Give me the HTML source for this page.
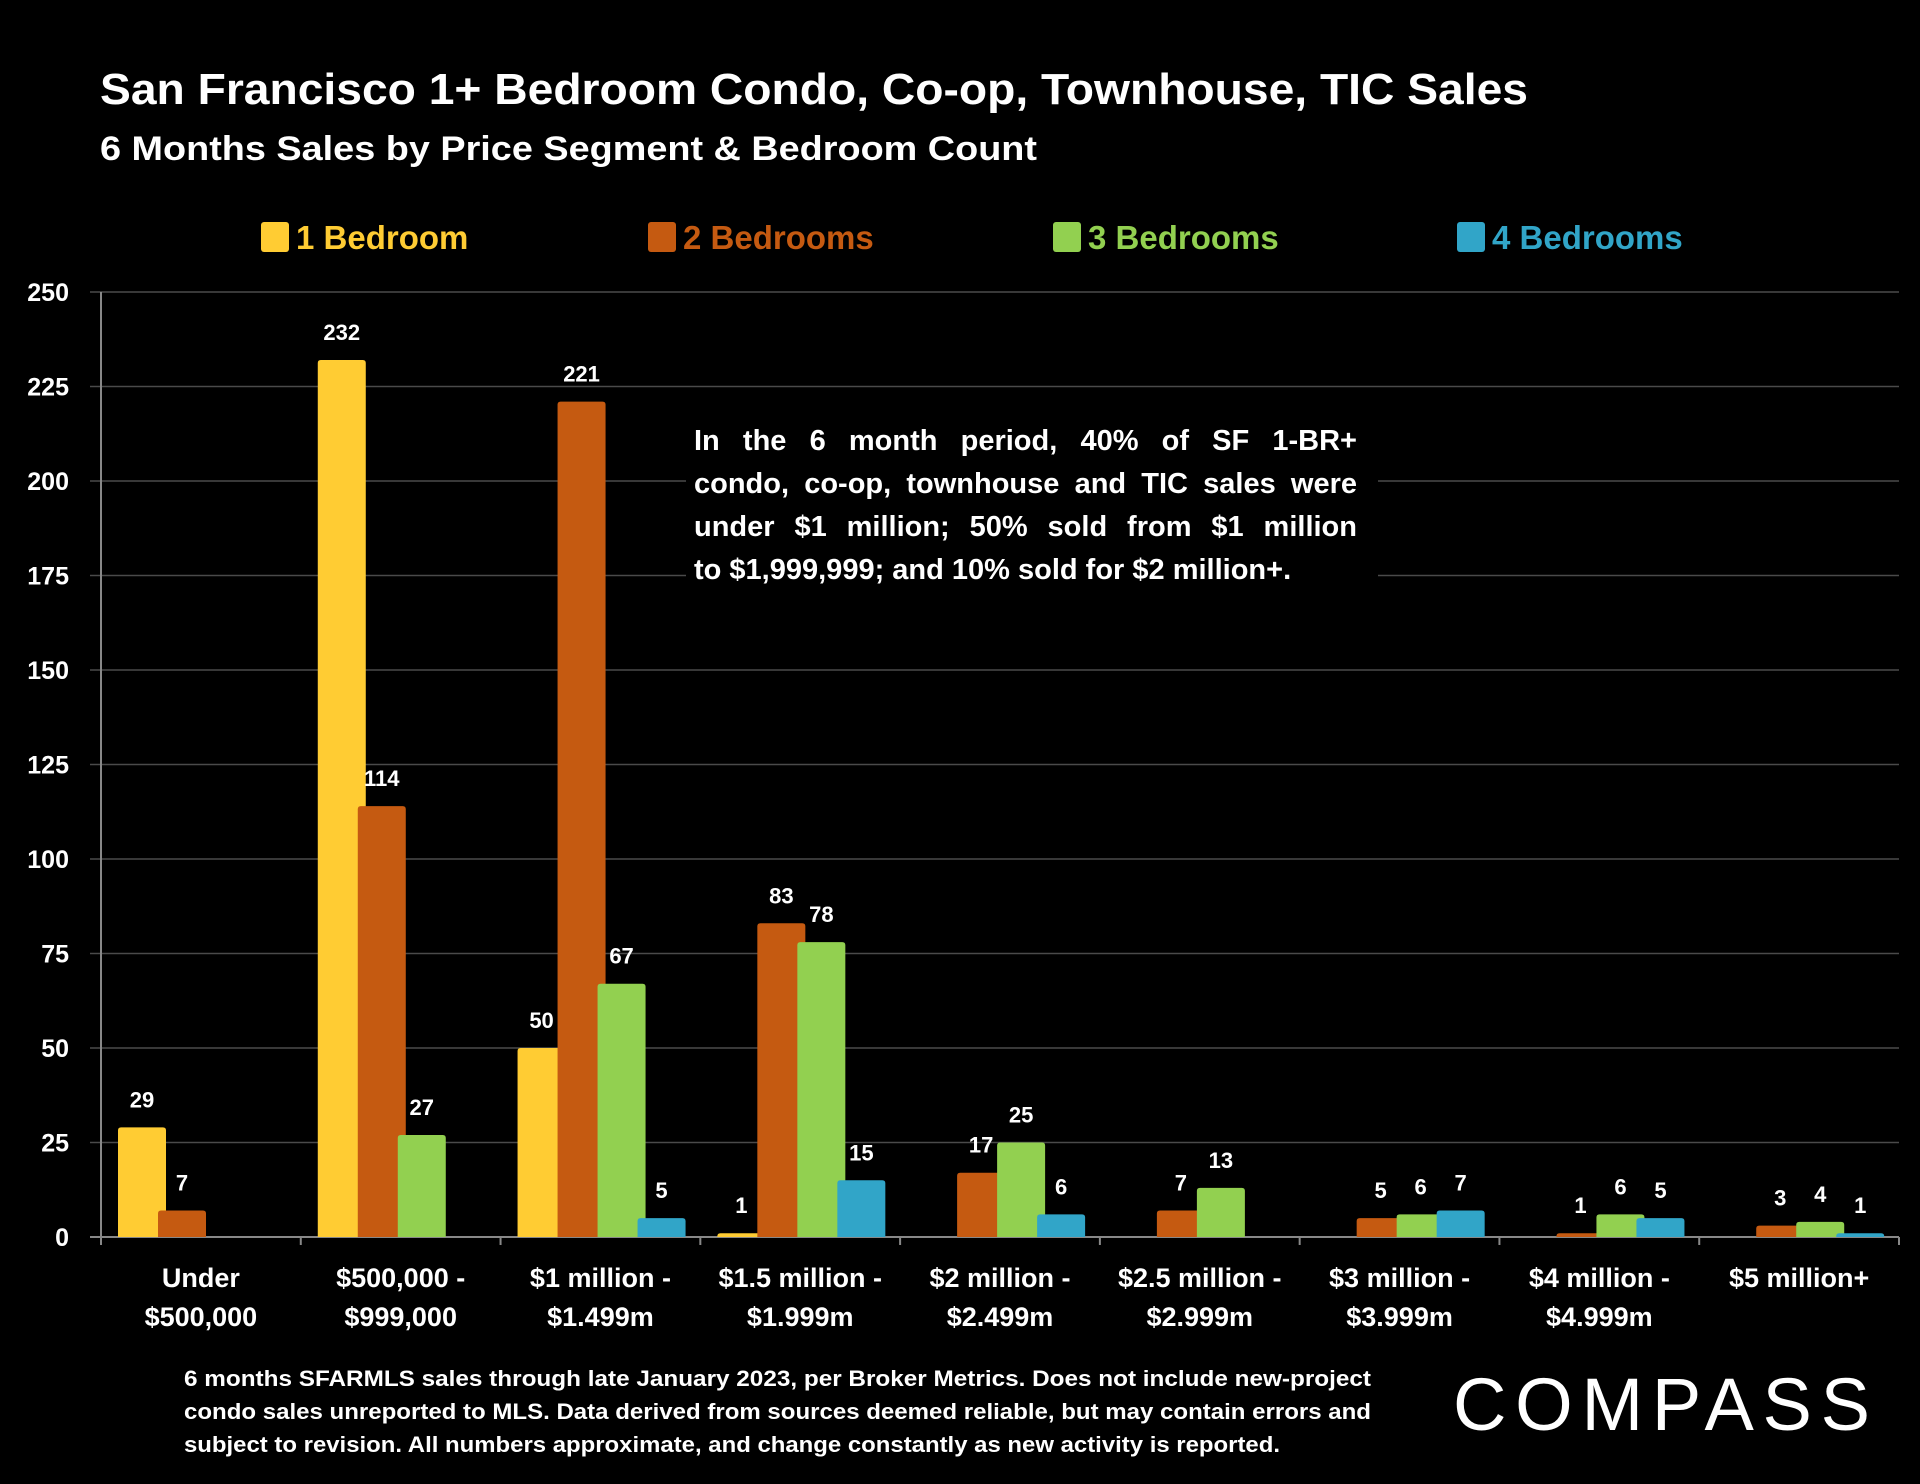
<!DOCTYPE html>
<html><head><meta charset="utf-8">
<style>
html,body{margin:0;padding:0;background:#000;}
svg{display:block;font-family:"Liberation Sans",sans-serif;}
#anno{position:absolute;left:694px;top:420px;width:663px;font-family:"Liberation Sans",sans-serif;font-weight:bold;font-size:29px;color:#fff;background:#000;padding:0;}
#anno div{height:43px;line-height:43px;white-space:nowrap;text-align:justify;text-align-last:justify;}
#anno div.last{text-align:left;text-align-last:left;}
#annobg{position:absolute;left:686px;top:414px;width:692px;height:180px;background:#000;}
</style></head>
<body>
<svg id="chart" width="1920" height="1484" viewBox="0 0 1920 1484" xmlns="http://www.w3.org/2000/svg">
<rect x="0" y="0" width="1920" height="1484" fill="#000"/>
<text x="100" y="104" fill="#fff" font-size="44" font-weight="bold" textLength="1428" lengthAdjust="spacingAndGlyphs">San Francisco 1+ Bedroom Condo, Co-op, Townhouse, TIC Sales</text>
<text x="100" y="160" fill="#fff" font-size="34" font-weight="bold" textLength="937" lengthAdjust="spacingAndGlyphs">6 Months Sales by Price Segment &amp; Bedroom Count</text>
<g id="legend"></g>
<g id="grid"></g>
<g id="bars"></g>
<g id="xlabels"></g>
<g fill="#fff" font-size="22" font-weight="bold">
<text x="184" y="1386" textLength="1187" lengthAdjust="spacingAndGlyphs">6  months SFARMLS sales through late January 2023, per Broker Metrics. Does not include new-project</text>
<text x="184" y="1419" textLength="1187" lengthAdjust="spacingAndGlyphs">condo sales unreported to MLS. Data derived from sources deemed reliable, but may contain errors and</text>
<text x="184" y="1452" textLength="1096" lengthAdjust="spacingAndGlyphs">subject to revision. All numbers approximate, and change constantly as new activity is reported.</text>
</g>
<text x="1453" y="1430" fill="#fff" font-size="74" textLength="417" lengthAdjust="spacing">COMPASS</text>
</svg>
<div id="annobg"></div>
<div id="anno">
<div>In the 6 month period, 40% of SF 1-BR+</div>
<div>condo, co-op, townhouse and TIC sales were</div>
<div>under $1 million; 50% sold from $1 million</div>
<div class="last">to $1,999,999; and 10% sold for $2 million+.</div>
</div>
<script>
const categories = [["Under","$500,000"],["$500,000 -","$999,000"],["$1 million -","$1.499m"],["$1.5 million -","$1.999m"],["$2 million -","$2.499m"],["$2.5 million -","$2.999m"],["$3 million -","$3.999m"],["$4 million -","$4.999m"],["$5 million+",""]];
const seriesNames = ["1 Bedroom","2 Bedrooms","3 Bedrooms","4 Bedrooms"];
const oneBed = [29,232,50,1,0,0,0,0,0];
const twoBed = [7,114,221,83,17,7,5,1,3];
const threeBed = [0,27,67,78,25,13,6,6,4];
const fourBed = [0,0,5,15,6,0,7,5,1];
const yTicks = [0,25,50,75,100,125,150,175,200,225,250];
const colors = ["#FFCC33","#C55A11","#92D050","#31A5C8"];
const series = [oneBed,twoBed,threeBed,fourBed];

const NS="http://www.w3.org/2000/svg";
function mk(tag,attrs,parent,txt){const e=document.createElementNS(NS,tag);for(const k in attrs)e.setAttribute(k,attrs[k]);if(txt!==undefined)e.textContent=txt;parent.appendChild(e);return e;}
const X0=101,X1=1899,Y0=1237,Ytop=292,YMAX=250;
const catW=(X1-X0)/categories.length;
function y(v){return Y0-(v/YMAX)*(Y0-Ytop);}
function xCat(i){return X0+i*catW;}

const grid=document.getElementById('grid');
yTicks.forEach(t=>{
  const l=mk('line',{x1:90,x2:X1,y1:y(t),y2:y(t),stroke:t===0?'#888':'#4a4a4a','stroke-width':t===0?2:1.5},grid);
  
  
  const tx=mk('text',{x:69,y:y(t)+9,'text-anchor':'end',fill:'#fff','font-size':25,'font-weight':'bold'},grid,String(t));
  
  
});
const ax=mk('line',{x1:X0,x2:X0,y1:Ytop,y2:Y0+8,stroke:'#888','stroke-width':2},grid);


for(let i=0;i<=categories.length;i++){
  const tk=mk('line',{x1:xCat(i),x2:xCat(i),y1:Y0,y2:Y0+8,stroke:'#888','stroke-width':2},grid);
  
  
}

const bars=document.getElementById('bars');
categories.forEach((c,i)=>{
  series.forEach((s,j)=>{
    const v=s[i];
    if(!v)return;
    const bx=xCat(i)+17+j*40, bw=48, top=y(v);
    const r=mk('path',{d:`M${bx},${Y0}L${bx},${top+3}Q${bx},${top} ${bx+3},${top}L${bx+bw-3},${top}Q${bx+bw},${top} ${bx+bw},${top+3}L${bx+bw},${Y0}Z`,fill:colors[j]},bars);
    
    
    const t=mk('text',{x:bx+bw/2,y:top-20,'text-anchor':'middle',fill:'#fff','font-size':22,'font-weight':'bold'},bars,String(v));
    
    
  });
});

const xl=document.getElementById('xlabels');
categories.forEach((c,i)=>{
  const cx=xCat(i)+catW/2;
  c.forEach((line,k)=>{
    if(!line)return;
    const t=mk('text',{x:cx,y:1287+k*39,'text-anchor':'middle',fill:'#fff','font-size':27,'font-weight':'bold'},xl,line);
    
    
  });
});

const lg=document.getElementById('legend');
const lgX=[261,648,1053,1457];
seriesNames.forEach((n,j)=>{
  const r=mk('rect',{x:lgX[j],y:222,width:28,height:30,rx:3,fill:colors[j]},lg);
  
  
  const t=mk('text',{x:lgX[j]+35,y:249,fill:colors[j],'font-size':33,'font-weight':'bold'},lg,n);
  
  
});
</script>
</body></html>
